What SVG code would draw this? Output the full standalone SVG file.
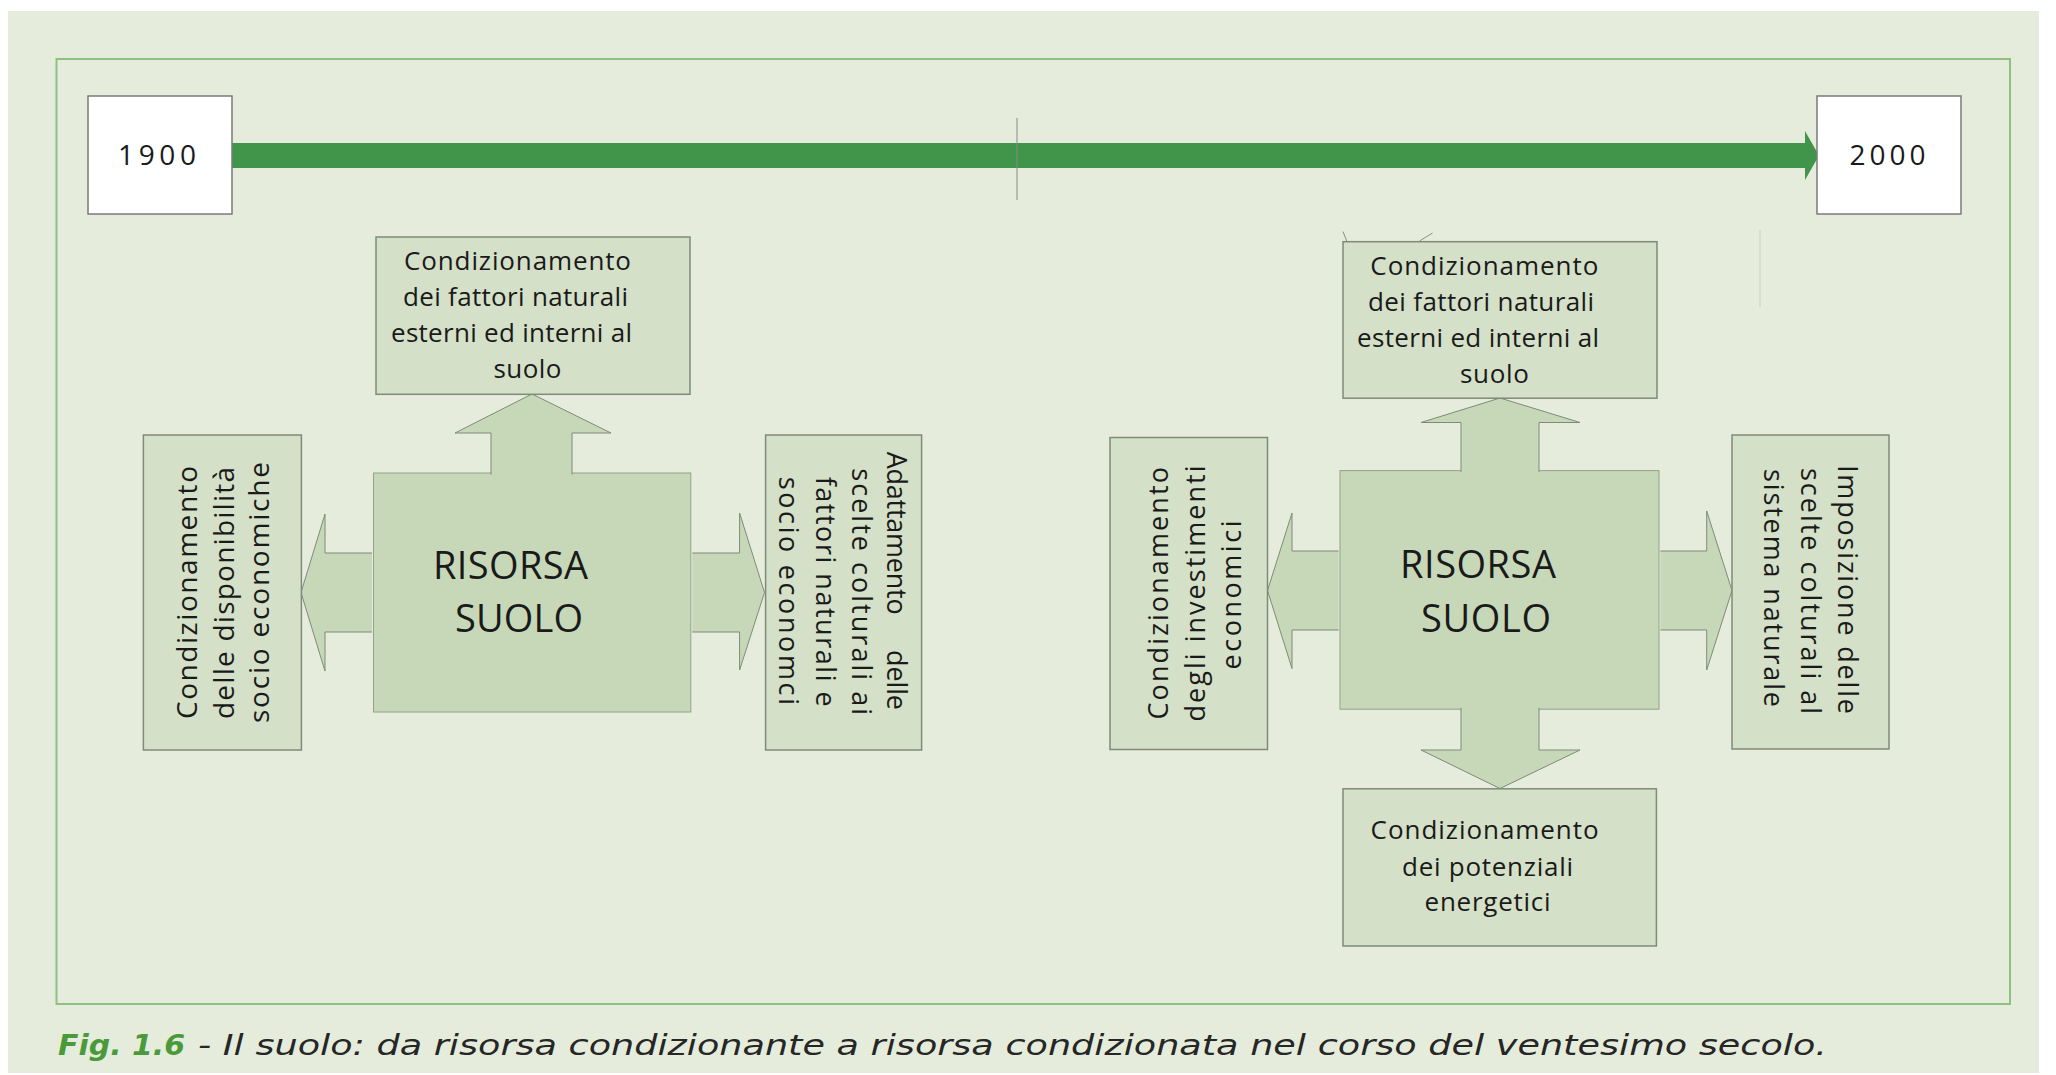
<svg xmlns="http://www.w3.org/2000/svg" width="2056" height="1075" viewBox="0 0 2056 1075">
<defs>
<style>
.bg{fill:#e5ecdb}
.frame{fill:none;stroke:#8dc17f;stroke-width:2}
.date{fill:#ffffff;stroke:#7a7a7a;stroke-width:1.5}
.box{fill:#d4e0c7;stroke:#7f8a7a;stroke-width:1.5}
.core{fill:#c7d8b9;stroke:#93a28c;stroke-width:1}
.arr{fill:#c7d8b9;stroke:#7f8a7a;stroke-width:1}
.t{font-family:"Open Sans","Noto Sans","Liberation Sans",sans-serif;fill:#1a1a1a}
.s25{font-size:26px}
.rt{font-size:27px}
.big{font-size:38px}
.cap{font-family:"DejaVu Sans","Liberation Sans",sans-serif;font-size:29px;font-style:italic;fill:#262626}
.fig{fill:#4a9a3c;font-weight:bold}
</style>
</defs>
<rect x="0" y="0" width="2056" height="1075" fill="#ffffff"/>
<rect class="bg" x="8" y="11" width="2031" height="1062"/>
<rect class="frame" x="56.5" y="59" width="1953.5" height="945"/>

<g id="connectors">
  <g id="timeline">
    <rect x="232" y="143" width="1574" height="25" fill="#41954a"/>
    <polygon points="1805,131 1819,155.5 1805,180" fill="#41954a"/>
    <line x1="1017" y1="118" x2="1017" y2="200" stroke="#8a8a8a" stroke-width="1"/>
  </g>
</g>

<g id="date-1900">
  <rect class="date" x="88" y="96" width="144" height="118"/>
  <text class="t" x="118" y="165" font-size="28" textLength="78" lengthAdjust="spacing">1900</text>
</g>
<g id="date-2000">
  <rect class="date" x="1817" y="96" width="144" height="118"/>
  <text class="t" x="1849.5" y="165" font-size="28" textLength="76" lengthAdjust="spacing">2000</text>
</g>

<!-- LEFT DIAGRAM (1900) -->
<g id="risorsa-suolo-1900">
  <rect class="core" x="373.5" y="473" width="317.3" height="239"/>
  <text class="t big" x="433" y="578.5" textLength="155" lengthAdjust="spacing">RISORSA</text>
  <text class="t big" x="455" y="631.5" textLength="128" lengthAdjust="spacing">SUOLO</text>
</g>
<g id="connectors-1900">
  <path class="arr" d="M491,474.5 V433 H455 L532,394 L611,433 H572 V474.5"/>
  <path class="arr" d="M372,553 H325 V514 L301,592.5 L325,671 V632 H372"/>
  <path class="arr" d="M692.3,553 H739.6 V513 L764.5,592.5 L739.6,670 V632 H692.3"/>
</g>
<g id="fattori-naturali-1900">
  <rect class="box" x="376" y="237" width="314" height="157.3"/>
  <text class="t s25" x="404" y="270" textLength="227" lengthAdjust="spacing">Condizionamento</text>
  <text class="t s25" x="403" y="306" textLength="225" lengthAdjust="spacing">dei fattori naturali</text>
  <text class="t s25" x="391" y="342" textLength="241" lengthAdjust="spacing">esterni ed interni al</text>
  <text class="t s25" x="493.5" y="378.3" textLength="68" lengthAdjust="spacing">suolo</text>
</g>
<g id="disponibilita-1900">
  <rect class="box" x="143.4" y="435" width="158" height="315"/>
  <text class="t" font-size="28" transform="translate(197,719) rotate(-90)" textLength="253" lengthAdjust="spacing">Condizionamento</text>
  <text class="t" font-size="28" transform="translate(234,719) rotate(-90)" textLength="252" lengthAdjust="spacing">delle disponibilità</text>
  <text class="t" font-size="28" transform="translate(269,723) rotate(-90)" textLength="261" lengthAdjust="spacing">socio economiche</text>
</g>
<g id="adattamento-1900">
  <rect class="box" x="765.6" y="435" width="156" height="315"/>
  <text class="t rt" transform="translate(887,451.7) rotate(90)" textLength="163" lengthAdjust="spacing">Adattamento</text>
  <text class="t rt" transform="translate(887,650) rotate(90)" textLength="60" lengthAdjust="spacing">delle</text>
  <text class="t rt" transform="translate(851.5,468.3) rotate(90)" textLength="246.7" lengthAdjust="spacing">scelte colturali ai</text>
  <text class="t rt" transform="translate(816,476.7) rotate(90)" textLength="230" lengthAdjust="spacing">fattori naturali e</text>
  <text class="t rt" transform="translate(779,476.7) rotate(90)" textLength="228.3" lengthAdjust="spacing">socio economci</text>
</g>

<!-- RIGHT DIAGRAM (2000) -->
<g id="risorsa-suolo-2000">
  <rect class="core" x="1340" y="470.6" width="319" height="238.6"/>
  <text class="t big" x="1400" y="578" textLength="156" lengthAdjust="spacing">RISORSA</text>
  <text class="t big" x="1421" y="631.6" textLength="130" lengthAdjust="spacing">SUOLO</text>
</g>
<g id="connectors-2000">
  <path class="arr" d="M1461,472 V422.5 H1421 L1500,398 L1580,422.5 H1539 V472"/>
  <path class="arr" d="M1461,707.8 V750 H1421 L1500,788.5 L1580,750 H1539 V707.8"/>
  <path class="arr" d="M1338.6,551 H1292 V513 L1267.5,590.5 L1292,668.5 V630 H1338.6"/>
  <path class="arr" d="M1660.4,551 H1706.7 V511 L1732,590.5 L1706.7,670 V630 H1660.4"/>
</g>
<g id="fattori-naturali-2000">
  <line x1="1343" y1="231.5" x2="1347.5" y2="243" stroke="#8c8c8c" stroke-width="1"/>
  <line x1="1419.5" y1="241" x2="1432.5" y2="233" stroke="#8c8c8c" stroke-width="1"/>
  <line x1="1760" y1="230" x2="1760" y2="307" stroke="#c9cfc2" stroke-width="1"/>
  <rect class="box" x="1343" y="241.7" width="314" height="156.5"/>
  <text class="t s25" x="1370.3" y="275" textLength="228" lengthAdjust="spacing">Condizionamento</text>
  <text class="t s25" x="1368" y="310.5" textLength="226" lengthAdjust="spacing">dei fattori naturali</text>
  <text class="t s25" x="1357" y="346.7" textLength="242" lengthAdjust="spacing">esterni ed interni al</text>
  <text class="t s25" x="1460" y="382.7" textLength="69" lengthAdjust="spacing">suolo</text>
</g>
<g id="investimenti-2000">
  <rect class="box" x="1110" y="437.5" width="157.5" height="312"/>
  <text class="t rt" transform="translate(1168,719.5) rotate(-90)" textLength="252.5" lengthAdjust="spacing">Condizionamento</text>
  <text class="t rt" transform="translate(1204.5,721.5) rotate(-90)" textLength="256" lengthAdjust="spacing">degli investimenti</text>
  <text class="t rt" transform="translate(1240.5,669.5) rotate(-90)" textLength="149" lengthAdjust="spacing">economici</text>
</g>
<g id="imposizione-2000">
  <rect class="box" x="1732" y="435" width="157" height="314"/>
  <text class="t rt" transform="translate(1838,465) rotate(90)" textLength="249" lengthAdjust="spacing">Imposizione delle</text>
  <text class="t rt" transform="translate(1801,468) rotate(90)" textLength="246" lengthAdjust="spacing">scelte colturali al</text>
  <text class="t rt" transform="translate(1764,469) rotate(90)" textLength="238" lengthAdjust="spacing">sistema naturale</text>
</g>
<g id="potenziali-energetici-2000">
  <rect class="box" x="1343" y="788.8" width="313.4" height="157.2"/>
  <text class="t s25" x="1370.6" y="838.7" textLength="228" lengthAdjust="spacing">Condizionamento</text>
  <text class="t s25" x="1402" y="875.7" textLength="171" lengthAdjust="spacing">dei potenziali</text>
  <text class="t s25" x="1424.6" y="910.9" textLength="126" lengthAdjust="spacing">energetici</text>
</g>

<g id="caption">
  <text class="cap fig" x="58" y="1055" textLength="127" lengthAdjust="spacingAndGlyphs">Fig. 1.6</text>
  <text class="cap" x="198" y="1055" textLength="1629" lengthAdjust="spacingAndGlyphs">- Il suolo: da risorsa condizionante a risorsa condizionata nel corso del ventesimo secolo.</text>
</g>
</svg>
